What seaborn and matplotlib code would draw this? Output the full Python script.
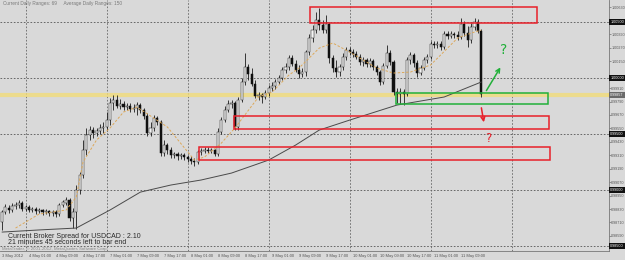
import matplotlib
matplotlib.use("Agg")
import matplotlib.pyplot as plt
import matplotlib.transforms as mtransforms
from matplotlib.patches import Rectangle
import numpy as np
import pandas as pd
import seaborn as sns

# ---------------- data (USDCAD, H1) ----------------
opens = [0.98714, 0.98803, 0.98839, 0.98821, 0.98856, 0.98865, 0.98883, 0.98830, 0.98848, 0.98821,
         0.98830, 0.98812, 0.98821, 0.98803, 0.98812, 0.98794, 0.98803, 0.98785, 0.98865, 0.98883,
         0.98910, 0.98749, 0.98803, 0.98999, 0.99134, 0.99357, 0.99490, 0.99535, 0.99508, 0.99526,
         0.99553, 0.99562, 0.99624, 0.99776, 0.99803, 0.99749, 0.99767, 0.99740, 0.99749, 0.99723,
         0.99732, 0.99758, 0.99714, 0.99660, 0.99508, 0.99553, 0.99642, 0.99607, 0.99330, 0.99401,
         0.99357, 0.99312, 0.99321, 0.99303, 0.99312, 0.99294, 0.99276, 0.99258, 0.99249, 0.99339,
         0.99348, 0.99357, 0.99348, 0.99357, 0.99321, 0.99517, 0.99624, 0.99714, 0.99767, 0.99776,
         0.99562, 0.99803, 0.99964, 1.00098, 1.00035, 0.99946, 0.99839, 0.99848, 0.99830, 0.99866,
         0.99910, 0.99928, 0.99964, 1.00000, 1.00071, 1.00098, 1.00178, 1.00124, 1.00071, 1.00035,
         1.00053, 1.00232, 1.00357, 1.00428, 1.00517, 1.00473, 1.00428, 1.00482, 1.00178, 1.00089,
         1.00053, 1.00098, 1.00187, 1.00250, 1.00232, 1.00214, 1.00187, 1.00142, 1.00160, 1.00124,
         1.00151, 1.00098, 1.00053, 0.99964, 1.00107, 1.00223, 1.00142, 0.99874, 0.99857, 0.99874,
         0.99857, 1.00160, 1.00205, 1.00133, 1.00044, 1.00089, 1.00160, 1.00187, 1.00303, 1.00294,
         1.00303, 1.00276, 1.00392, 1.00375, 1.00392, 1.00383, 1.00366, 1.00482, 1.00401, 1.00339,
         1.00455, 1.00500, 1.00419]
closes = [0.98803, 0.98848, 0.98821, 0.98856, 0.98865, 0.98883, 0.98830, 0.98848, 0.98821, 0.98830,
          0.98812, 0.98821, 0.98803, 0.98812, 0.98794, 0.98803, 0.98785, 0.98865, 0.98892, 0.98910,
          0.98749, 0.98803, 0.98999, 0.99134, 0.99357, 0.99490, 0.99535, 0.99508, 0.99526, 0.99553,
          0.99562, 0.99624, 0.99776, 0.99803, 0.99749, 0.99767, 0.99740, 0.99749, 0.99723, 0.99732,
          0.99758, 0.99714, 0.99660, 0.99508, 0.99553, 0.99642, 0.99607, 0.99330, 0.99401, 0.99357,
          0.99312, 0.99321, 0.99303, 0.99312, 0.99294, 0.99276, 0.99258, 0.99249, 0.99339, 0.99348,
          0.99357, 0.99348, 0.99357, 0.99321, 0.99517, 0.99624, 0.99714, 0.99767, 0.99776, 0.99562,
          0.99803, 0.99964, 1.00098, 1.00035, 0.99946, 0.99839, 0.99848, 0.99830, 0.99866, 0.99910,
          0.99928, 0.99964, 1.00000, 1.00071, 1.00098, 1.00178, 1.00124, 1.00071, 1.00035, 1.00053,
          1.00232, 1.00357, 1.00428, 1.00517, 1.00473, 1.00428, 1.00482, 1.00178, 1.00089, 1.00053,
          1.00098, 1.00187, 1.00250, 1.00232, 1.00214, 1.00187, 1.00142, 1.00160, 1.00124, 1.00151,
          1.00098, 1.00053, 0.99964, 1.00107, 1.00223, 1.00142, 0.99874, 0.99857, 0.99874, 0.99857,
          1.00160, 1.00205, 1.00133, 1.00044, 1.00089, 1.00160, 1.00187, 1.00303, 1.00294, 1.00303,
          1.00276, 1.00392, 1.00375, 1.00392, 1.00383, 1.00366, 1.00482, 1.00401, 1.00339, 1.00455,
          1.00500, 1.00419, 0.99857]
highs = [0.98821, 0.98874, 0.98865, 0.98883, 0.98892, 0.98910, 0.98901, 0.98865, 0.98865, 0.98848,
         0.98848, 0.98839, 0.98830, 0.98830, 0.98821, 0.98821, 0.98821, 0.98883, 0.98910, 0.98937,
         0.98928, 0.98839, 0.99044, 0.99160, 0.99446, 0.99553, 0.99571, 0.99562, 0.99553, 0.99589,
         0.99607, 0.99696, 0.99821, 0.99848, 0.99848, 0.99812, 0.99794, 0.99776, 0.99776, 0.99767,
         0.99785, 0.99776, 0.99732, 0.99687, 0.99607, 0.99669, 0.99660, 0.99624, 0.99446, 0.99419,
         0.99383, 0.99339, 0.99339, 0.99330, 0.99330, 0.99312, 0.99303, 0.99285, 0.99357, 0.99374,
         0.99383, 0.99383, 0.99374, 0.99365, 0.99553, 0.99651, 0.99749, 0.99803, 0.99803, 0.99794,
         0.99830, 1.00000, 1.00223, 1.00124, 1.00089, 0.99982, 0.99874, 0.99866, 0.99892, 0.99937,
         0.99964, 0.99991, 1.00026, 1.00098, 1.00133, 1.00205, 1.00205, 1.00160, 1.00116, 1.00089,
         1.00250, 1.00392, 1.00473, 1.00589, 1.00625, 1.00517, 1.00562, 1.00500, 1.00205, 1.00160,
         1.00124, 1.00223, 1.00276, 1.00276, 1.00258, 1.00241, 1.00214, 1.00187, 1.00178, 1.00178,
         1.00169, 1.00116, 1.00071, 1.00133, 1.00294, 1.00250, 1.00160, 0.99910, 0.99910, 0.99901,
         1.00187, 1.00232, 1.00223, 1.00160, 1.00116, 1.00187, 1.00214, 1.00330, 1.00330, 1.00330,
         1.00330, 1.00419, 1.00419, 1.00419, 1.00410, 1.00419, 1.00535, 1.00509, 1.00464, 1.00491,
         1.00535, 1.00526, 1.00437]
lows = [0.98643, 0.98785, 0.98794, 0.98803, 0.98830, 0.98839, 0.98812, 0.98812, 0.98803, 0.98803,
        0.98785, 0.98794, 0.98776, 0.98785, 0.98767, 0.98767, 0.98758, 0.98767, 0.98848, 0.98865,
        0.98723, 0.98660, 0.98651, 0.98964, 0.99107, 0.99312, 0.99446, 0.99464, 0.99481, 0.99499,
        0.99508, 0.99526, 0.99580, 0.99714, 0.99732, 0.99723, 0.99714, 0.99714, 0.99696, 0.99696,
        0.99669, 0.99687, 0.99633, 0.99481, 0.99481, 0.99526, 0.99580, 0.99303, 0.99303, 0.99321,
        0.99285, 0.99285, 0.99267, 0.99276, 0.99267, 0.99249, 0.99232, 0.99214, 0.99232, 0.99312,
        0.99330, 0.99330, 0.99330, 0.99303, 0.99303, 0.99499, 0.99607, 0.99696, 0.99732, 0.99535,
        0.99535, 0.99785, 0.99937, 0.99982, 0.99928, 0.99821, 0.99803, 0.99776, 0.99812, 0.99839,
        0.99883, 0.99901, 0.99946, 0.99982, 1.00044, 1.00071, 1.00107, 1.00053, 1.00000, 1.00008,
        1.00017, 1.00205, 1.00321, 1.00401, 1.00428, 1.00401, 1.00401, 1.00133, 1.00053, 1.00008,
        1.00017, 1.00071, 1.00160, 1.00205, 1.00187, 1.00169, 1.00116, 1.00107, 1.00098, 1.00098,
        1.00071, 1.00026, 0.99937, 0.99946, 1.00089, 1.00116, 0.99848, 0.99776, 0.99767, 0.99758,
        0.99839, 1.00124, 1.00098, 1.00008, 1.00026, 1.00071, 1.00133, 1.00169, 1.00267, 1.00267,
        1.00250, 1.00258, 1.00348, 1.00357, 1.00357, 1.00339, 1.00348, 1.00375, 1.00276, 1.00312,
        1.00428, 1.00401, 0.99830]

# moving averages (read at a set of bars)
ma_fast_bar = [4, 11, 19, 22, 24, 28, 32, 36, 40, 49, 57, 60, 65, 69, 76, 80, 85, 88, 94, 98,
               103, 111, 116, 121, 127, 135, 139, 142]
ma_fast_val = [0.98660, 0.98785, 0.98821, 0.98937, 0.99249, 0.99446, 0.99553, 0.99696, 0.99740,
               0.99562, 0.99267, 0.99294, 0.99419, 0.99553, 0.99830, 0.99874, 1.00026, 1.00089,
               1.00267, 1.00312, 1.00232, 1.00089, 1.00044, 1.00053, 1.00116, 1.00357, 1.00401,
               1.00428]
ma_slow_bar = [0, 11, 22, 32, 41, 50, 59, 68, 79, 87, 94, 103, 117, 131, 142]
ma_slow_val = [0.98624, 0.98643, 0.98660, 0.98821, 0.98981, 0.99044, 0.99089, 0.99151, 0.99267,
               0.99401, 0.99535, 0.99624, 0.99758, 0.99830, 0.99964]

# time axis labels (every 8 bars)
time_label_bars = [0, 8, 16, 24, 32, 40, 48, 56, 64, 72, 80, 88, 96, 104, 112, 120, 128, 136]
time_labels = ["3 May 2012", "4 May 01:00", "4 May 09:00", "4 May 17:00", "7 May 01:00",
               "7 May 09:00", "7 May 17:00", "8 May 01:00", "8 May 09:00", "8 May 17:00",
               "9 May 01:00", "9 May 09:00", "9 May 17:00", "10 May 01:00", "10 May 09:00",
               "10 May 17:00", "11 May 01:00", "11 May 09:00"]
day_start_bars = [7, 31, 55, 79, 103, 127, 151]

price_ticks = [1.00630, 1.00390, 1.00270, 1.00150, 0.99910, 0.99790, 0.99670, 0.99550, 0.99430,
               0.99310, 0.99190, 0.99070, 0.98950, 0.98830, 0.98710, 0.98590]
grid_prices = [1.00500, 1.00000, 0.99500, 0.99000, 0.98500]
current_price = 0.99857
level_price = 0.99850

# user-drawn zones: (bar_left, bar_right, price_low, price_high)
red_zones = [(91.3, 158.5, 1.00491, 1.00634),
             (68.7, 162.1, 0.99544, 0.99660),
             (58.4, 162.4, 0.99267, 0.99383)]
green_zone = (116.7, 161.8, 0.99767, 0.99866)

# ---------------- figure ----------------
sns.set_style("white")
plt.rcParams["font.family"] = ["Liberation Sans", "DejaVu Sans"]
BG = "#d9d9d9"
fig = plt.figure(figsize=(6.25, 2.6), dpi=100, facecolor=BG)
ax = fig.add_axes([0, 9 / 260, 609 / 625, 251 / 260], facecolor=BG)

df = pd.DataFrame({"bar": np.arange(len(opens)), "open": opens, "high": highs,
                   "low": lows, "close": closes})
up = df["close"] >= df["open"]

# grid
for g in grid_prices:
    ax.axhline(g, color="#555555", lw=0.6, ls=(0, (2, 2)), zorder=1)
for b in day_start_bars:
    ax.axvline(b, color="#666666", lw=0.6, ls=(0, (2, 2)), zorder=1)

# yellow horizontal level
ax.axhline(level_price, color="#f2dc7a", lw=3.0, alpha=0.8, zorder=1.5)

# candles
ax.vlines(df["bar"], df["low"], df["high"], color="#1c1c1c", lw=0.6, zorder=3)
body_lo = np.minimum(df["open"], df["close"])
body_h = np.maximum(np.abs(df["close"] - df["open"]), 0.00003)
ax.bar(df["bar"][up], body_h[up], bottom=body_lo[up], width=0.62, color="#f4f4f4",
       edgecolor="#1c1c1c", linewidth=0.35, zorder=3.5)
ax.bar(df["bar"][~up], body_h[~up], bottom=body_lo[~up], width=0.62, color="#0f0f0f",
       edgecolor="#0f0f0f", linewidth=0.35, zorder=3.5)

# moving averages via seaborn
sns.lineplot(x=ma_slow_bar, y=ma_slow_val, ax=ax, color="#4a4a4a", lw=0.7, zorder=4)
sns.lineplot(x=ma_fast_bar, y=ma_fast_val, ax=ax, color="#dca85a", lw=0.7,
             linestyle=(0, (2.5, 1.8)), zorder=4)

# zones
for (x0, x1, p0, p1) in red_zones:
    ax.add_patch(Rectangle((x0, p0), x1 - x0, p1 - p0, fill=False, edgecolor="#e8202a",
                           lw=1.1, zorder=5))
gx0, gx1, gp0, gp1 = green_zone
ax.add_patch(Rectangle((gx0, gp0), gx1 - gx0, gp1 - gp0, fill=False, edgecolor="#22b03a",
                       lw=1.1, zorder=5))

# hand-drawn arrows and question marks
ax.annotate("", xy=(148.1, 1.00116), xytext=(143.1, 0.99866),
            arrowprops=dict(arrowstyle="->", color="#22b03a", lw=1.1, mutation_scale=7), zorder=6)
ax.text(148.6, 1.00250, "?", color="#22b03a", fontsize=10, ha="center", va="center",
        family="DejaVu Sans", zorder=6)
ax.annotate("", xy=(142.9, 0.99580), xytext=(141.9, 0.99758),
            arrowprops=dict(arrowstyle="->", color="#e8202a", lw=1.1, mutation_scale=7), zorder=6)
ax.text(144.0, 0.99464, "?", color="#e8202a", fontsize=8.5, ha="center", va="center",
        family="DejaVu Sans", zorder=6)

# limits
ax.set_xlim(-0.6, 179.85)
ax.set_ylim(0.984550, 1.006964)

# axes styling
for s in ["left", "top"]:
    ax.spines[s].set_visible(False)
for s in ["right", "bottom"]:
    ax.spines[s].set_color("#777777")
    ax.spines[s].set_linewidth(0.6)

ax.yaxis.tick_right()
ax.set_yticks(price_ticks)
ax.set_yticklabels([f"{p:.5f}" for p in price_ticks])
ax.tick_params(axis="y", length=1.2, width=0.4, colors="#555555", labelsize=2.7, pad=0.5)
ax.set_xticks(time_label_bars)
ax.set_xticklabels(time_labels)
for lab in ax.get_xticklabels():
    lab.set_horizontalalignment("left")
ax.tick_params(axis="x", length=1.5, width=0.4, colors="#555555", labelsize=2.9, pad=1)
ax.set_xlabel("")
ax.set_ylabel("")

# black boxed grid labels and current price label
trans = mtransforms.blended_transform_factory(ax.transAxes, ax.transData)
for g in grid_prices:
    ax.text(1.002, g, f"{g:.5f}", transform=trans, fontsize=2.7, color="white", va="center",
            ha="left", bbox=dict(boxstyle="square,pad=0.25", fc="#111111", ec="none"),
            clip_on=False, zorder=7)
ax.plot([1.0, 1.03], [level_price, level_price], transform=trans, color="#f2dc7a", lw=3.0,
        alpha=0.8, clip_on=False, zorder=6)
ax.text(1.002, current_price - 0.00006, f"{current_price:.5f}", transform=trans, fontsize=2.7,
        color="white", va="center", ha="left",
        bbox=dict(boxstyle="square,pad=0.25", fc="#6a6a6a", ec="none"), clip_on=False, zorder=7)

# informational texts
fig.text(3 / 625, 1 - 4 / 260, "Current Daily Ranges: 69     Average Daily Ranges: 150",
         fontsize=3.4, color="#7a7a7a", va="center", ha="left")
fig.text(8 / 625, 1 - 236 / 260, "Current Broker Spread for USDCAD : 2.10",
         fontsize=5.0, color="#2a2a2a", va="center", ha="left")
fig.text(8 / 625, 1 - 243 / 260, "21 minutes 45 seconds left to bar end",
         fontsize=5.0, color="#2a2a2a", va="center", ha="left")
fig.text(2 / 625, 1 - 249 / 260, "MetaTrader, © 2001-2012, MetaQuotes Software Corp.",
         fontsize=3.2, color="#8a8a8a", va="center", ha="left")

fig.savefig("out.png", dpi=100, facecolor=BG)
